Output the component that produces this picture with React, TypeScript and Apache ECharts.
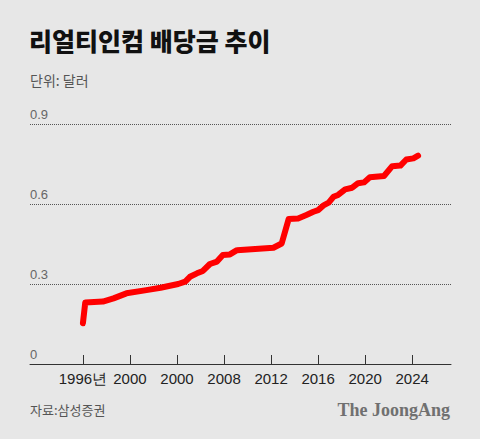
import { useEffect, useRef } from 'react'
import * as echarts from 'echarts'

// 리얼티인컴 월 배당금 (연도, 달러)
const years = [
  1996.0, 1996.2, 1997.7, 1998.6, 1999.7, 2001.4, 2002.6, 2004.1, 2004.7, 2005.1,
  2005.7, 2006.2, 2006.8, 2007.4, 2007.9, 2008.5, 2009.1, 2012.2, 2012.9, 2013.5,
  2014.3, 2015.0, 2015.6, 2016.0, 2016.5, 2016.9, 2017.3, 2017.7, 2018.3, 2018.9,
  2019.4, 2019.9, 2020.4, 2021.6, 2022.3, 2023.0, 2023.5, 2024.1, 2024.5,
]
const dividends = [
  0.153, 0.231, 0.234, 0.246, 0.265, 0.277, 0.286, 0.3, 0.309, 0.327,
  0.34, 0.349, 0.375, 0.384, 0.409, 0.411, 0.427, 0.436, 0.452, 0.544,
  0.546, 0.559, 0.571, 0.577, 0.596, 0.605, 0.627, 0.634, 0.655, 0.661,
  0.678, 0.681, 0.7, 0.705, 0.742, 0.744, 0.767, 0.771, 0.781,
]
const tickYears = [1996, 2000, 2004, 2008, 2012, 2016, 2020, 2024]
const tickLabels = ['1996년', '2000', '2000', '2008', '2012', '2016', '2020', '2024']

export default function App() {
  const chartRef = useRef<HTMLDivElement>(null)

  useEffect(() => {
    if (!chartRef.current) return
    document.body.style.margin = '0'
    const chart = echarts.init(chartRef.current, null, { renderer: 'svg' })

    const option = {
      animation: false,
      backgroundColor: '#e7e7e7',
      textStyle: { fontFamily: '"Noto Sans CJK KR", "Noto Sans", sans-serif' },
      grid: { left: 30, right: 29, top: 124, bottom: 75 },
      xAxis: {
        type: 'value',
        min: 1991.5,
        max: 2027.3,
        splitLine: { show: false },
        axisLine: { lineStyle: { color: '#333', width: 1 } },
        axisTick: {
          customValues: tickYears,
          inside: true,
          length: 9,
          lineStyle: { color: '#333' },
        },
        axisLabel: {
          customValues: tickYears,
          margin: 7,
          fontSize: 15,
          color: '#222',
          fontFamily: '"Liberation Sans", Arial, sans-serif',
          formatter: (v: number) => tickLabels[tickYears.indexOf(Math.round(v))] ?? '',
        },
      },
      yAxis: {
        type: 'value',
        min: 0,
        max: 0.9,
        interval: 0.3,
        axisLine: { show: false },
        axisTick: { show: false },
        splitLine: { lineStyle: { color: '#555', type: 'dotted', width: 1 } },
        axisLabel: {
          inside: true,
          margin: 0,
          verticalAlign: 'bottom',
          padding: [0, 0, 3, 0],
          fontSize: 13,
          color: '#666',
          fontFamily: '"Liberation Sans", Arial, sans-serif',
          formatter: (v: number) => (v === 0 ? '0' : v.toFixed(1)),
        },
      },
      graphic: [
        {
          type: 'text',
          left: 29,
          top: 27,
          style: {
            text: '리얼티인컴 배당금 추이',
            font: '900 25px "Noto Sans CJK KR"',
            fill: '#111',
          },
        },
        {
          type: 'text',
          left: 30,
          top: 73,
          style: { text: '단위: 달러', font: '14px "Noto Sans CJK KR"', fill: '#555' },
        },
        {
          type: 'text',
          left: 30,
          top: 403,
          style: { text: '자료:삼성증권', font: '13px "Noto Sans CJK KR"', fill: '#555' },
        },
        {
          type: 'text',
          right: 30,
          top: 401,
          style: {
            text: 'The JoongAng',
            font: 'bold 18px "Liberation Serif", "DejaVu Serif", serif',
            fill: '#707070',
          },
        },
      ],
      series: [
        {
          type: 'line',
          data: years.map((y, i) => [y, dividends[i]]),
          symbol: 'none',
          lineStyle: { color: '#ff0000', width: 6, cap: 'round', join: 'round' },
        },
      ],
    }

    chart.setOption(option)

    return () => {
      chart.dispose()
    }
  }, [])

  return <div ref={chartRef} style={{ width: 480, height: 439 }} />
}
